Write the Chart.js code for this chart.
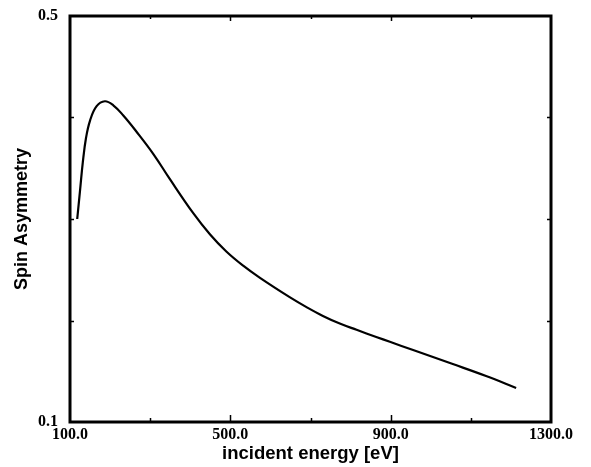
<!DOCTYPE html>
<html>
<head>
<meta charset="utf-8">
<script src="https://cdn.jsdelivr.net/npm/chart.js@4"></script>
<style>
  html, body { margin: 0; padding: 0; background: #fff; }
  #wrap { width: 591px; height: 467px; }
</style>
</head>
<body>
<div id="wrap"><canvas id="spinChart" width="591" height="467"></canvas></div>
<script>
// Curve (energy in eV, asymmetry)
const energy = [118, 125, 132, 140, 150, 166, 187, 208, 233, 266, 308, 348, 407, 449, 490, 532, 574, 648, 690, 731, 773, 815, 864, 898, 956, 1055, 1138, 1213];
const asymmetry = [0.300, 0.328, 0.356, 0.380, 0.397, 0.411, 0.416, 0.412, 0.402, 0.386, 0.364, 0.340, 0.306, 0.285, 0.268, 0.254, 0.242, 0.223, 0.2132, 0.2045, 0.197, 0.1908, 0.1838, 0.179, 0.1709, 0.1571, 0.1453, 0.1335];

// Axis ticks
const xMajor = [100, 500, 900, 1300];
const xMinor = [300, 700, 1100];
const yLabelled = [0.1, 0.5];
const yInner = [0.2, 0.3, 0.4];

const points = energy.map((e, i) => ({ x: e, y: asymmetry[i] }));

// Draws the boxed frame and the inward tick marks
const framePlugin = {
    id: 'frame',
    afterDatasetsDraw(chart) {
        const ctx = chart.ctx;
        const a = chart.chartArea;
        const xs = chart.scales.x;
        const ys = chart.scales.y;
        ctx.save();
        ctx.strokeStyle = '#000';
        ctx.lineWidth = 1.5;
        xMajor.slice(1, -1).forEach(v => {
            const px = Math.round(xs.getPixelForValue(v)) + 0.5;
            ctx.beginPath();
            ctx.moveTo(px, a.bottom); ctx.lineTo(px, a.bottom - 7);
            ctx.moveTo(px, a.top); ctx.lineTo(px, a.top + 5);
            ctx.stroke();
        });
        xMinor.forEach(v => {
            const px = Math.round(xs.getPixelForValue(v)) + 0.5;
            ctx.beginPath();
            ctx.moveTo(px, a.bottom); ctx.lineTo(px, a.bottom - 4);
            ctx.moveTo(px, a.top); ctx.lineTo(px, a.top + 3);
            ctx.stroke();
        });
        yInner.forEach(v => {
            const py = Math.round(ys.getPixelForValue(v)) + 0.5;
            ctx.beginPath();
            ctx.moveTo(a.left, py); ctx.lineTo(a.left + 4, py);
            ctx.moveTo(a.right, py); ctx.lineTo(a.right - 4, py);
            ctx.stroke();
        });
        ctx.lineWidth = 3;
        ctx.strokeRect(a.left, a.top, a.right - a.left, a.bottom - a.top);
        ctx.restore();
    }
};

new Chart(document.getElementById('spinChart'), {
    type: 'scatter',
    data: {
        datasets: [{
            data: points,
            showLine: true,
            borderColor: '#000',
            borderWidth: 2.2,
            pointRadius: 0,
            tension: 0.4
        }]
    },
    options: {
        responsive: false,
        animation: false,
        layout: { padding: { top: 16, right: 40, bottom: 0, left: 0 } },
        plugins: { legend: { display: false }, tooltip: { enabled: false } },
        scales: {
            x: {
                type: 'linear',
                min: 100,
                max: 1300,
                afterFit: s => { s.height = 45; s.paddingLeft = 0; s.paddingRight = 0; },
                grid: { display: false, drawTicks: false },
                border: { display: false },
                ticks: {
                    stepSize: 200,
                    autoSkip: false,
                    maxRotation: 0,
                    padding: 3,
                    color: '#000',
                    font: { family: 'Liberation Serif', weight: 'bold', size: 16 },
                    callback: v => xMajor.includes(v) ? v.toFixed(1) : ''
                },
                title: {
                    display: true,
                    text: 'incident energy [eV]',
                    color: '#000',
                    padding: { top: 0, bottom: 2 },
                    font: { family: 'Liberation Sans', weight: 'bold', size: 18.5 }
                }
            },
            y: {
                type: 'linear',
                min: 0.1,
                max: 0.5,
                afterFit: s => { s.width = 70; s.paddingTop = 0; s.paddingBottom = 0; },
                grid: { display: false, drawTicks: false },
                border: { display: false },
                ticks: {
                    stepSize: 0.1,
                    autoSkip: false,
                    padding: 12,
                    color: '#000',
                    font: { family: 'Liberation Serif', weight: 'bold', size: 16 },
                    callback: v => yLabelled.some(t => Math.abs(t - v) < 1e-6) ? v.toFixed(1) : ''
                },
                title: {
                    display: true,
                    text: 'Spin Asymmetry',
                    color: '#000',
                    padding: { top: 11, bottom: 0 },
                    font: { family: 'Liberation Sans', weight: 'bold', size: 18 }
                }
            }
        }
    },
    plugins: [framePlugin]
});
</script>
</body>
</html>
